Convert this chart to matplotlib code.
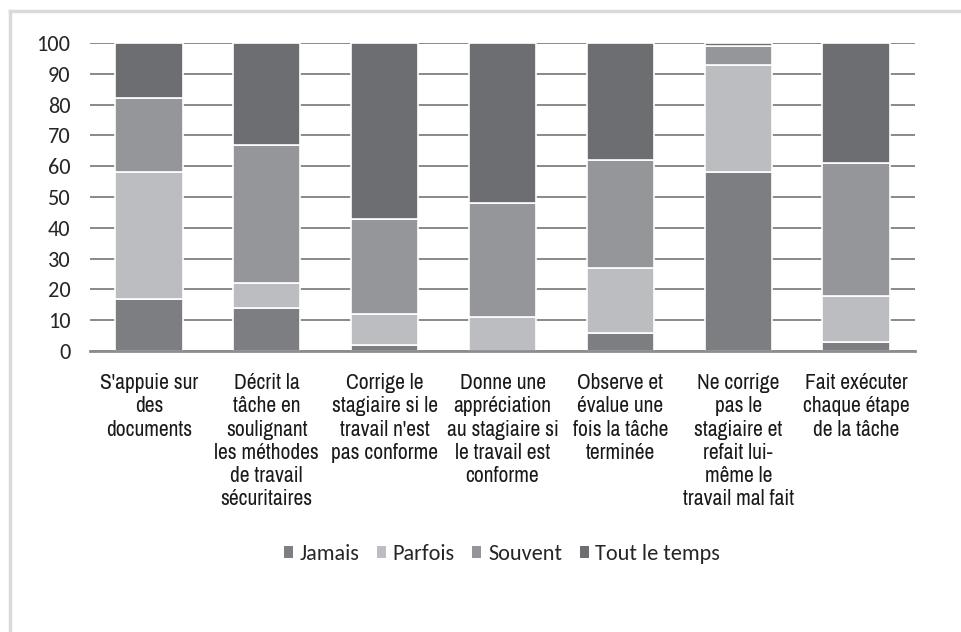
import matplotlib.pyplot as plt
import numpy as np
from matplotlib.lines import Line2D
from matplotlib.patches import Patch

categories = [
    "S'appuie sur\ndes\ndocuments",
    "Décrit la\ntâche en\nsoulignant\nles méthodes\nde travail\nsécuritaires",
    "Corrige le\nstagiaire si le\ntravail n'est\npas conforme",
    "Donne une\nappréciation\nau stagiaire si\nle travail est\nconforme",
    "Observe et\névalue une\nfois la tâche\nterminée",
    "Ne corrige\npas le\nstagiaire et\nrefait lui-\nmême le\ntravail mal fait",
    "Fait exécuter\nchaque étape\nde la tâche",
]
series_names = ["Jamais", "Parfois", "Souvent", "Tout le temps"]
jamais = [17, 14, 2, 0, 6, 58, 3]
parfois = [41, 8, 10, 11, 21, 35, 15]
souvent = [24, 45, 31, 37, 35, 6, 43]
tout_le_temps = [18, 33, 57, 52, 38, 1, 39]
y_ticks = list(range(0, 101, 10))

COLORS = ["#7d7e82", "#bcbdc0", "#95969a", "#6d6e72"]
NARROW = ["Archivo Narrow", "Liberation Sans Narrow", "DejaVu Sans"]
BODY = ["Carlito", "Lato", "DejaVu Sans"]

fig = plt.figure(figsize=(9.61, 6.32), dpi=100)
ax = fig.add_axes([90 / 961, 1 - 351 / 632, 825 / 961, 308 / 632])

x = np.arange(len(categories))
bottom = np.zeros(len(categories))
for name, vals, color in zip(series_names, [jamais, parfois, souvent, tout_le_temps], COLORS):
    ax.bar(x, vals, 0.57, bottom=bottom, color=color, edgecolor="white",
           linewidth=1.2, zorder=3, label=name)
    bottom += np.array(vals)

ax.set_xlim(-0.5, len(categories) - 0.5)
ax.set_ylim(0, 100)
ax.set_yticks(y_ticks)
ax.yaxis.grid(True, color="#808080", linewidth=1.3, zorder=0)
ax.set_axisbelow(True)
for side in ["top", "right", "left"]:
    ax.spines[side].set_visible(False)
ax.spines["bottom"].set_color("#8c8c8c")
ax.spines["bottom"].set_linewidth(2)
ax.spines["bottom"].set_zorder(4)

ax.set_xticks(x)
ax.set_xticklabels(categories, family=NARROW, fontsize=15.5, color="#1a1a1a",
                   linespacing=1.2, va="top")
ax.tick_params(axis="x", length=0, pad=16)
ax.tick_params(axis="y", length=0, pad=14, labelsize=16, labelcolor="#262626")
for lbl in ax.get_yticklabels():
    lbl.set_family(BODY)

handles = [Patch(facecolor=c, edgecolor="none") for c in COLORS]
leg = fig.legend(handles, series_names, loc="center", bbox_to_anchor=(502 / 961, 1 - 554 / 632),
                 ncol=4, frameon=False, prop={"family": BODY, "size": 16},
                 handlelength=0.4, handleheight=0.4, handletextpad=0.3, columnspacing=0.8)
for t in leg.get_texts():
    t.set_color("#262626")

# outer frame: top and left lines only
fig.add_artist(Line2D([10 / 961, 1], [1 - 11 / 632, 1 - 11 / 632], color="#d9d9d9", linewidth=2.5))
fig.add_artist(Line2D([10 / 961, 10 / 961], [0, 1 - 11 / 632], color="#d9d9d9", linewidth=2.5))

fig.savefig("out.png", dpi=100)
